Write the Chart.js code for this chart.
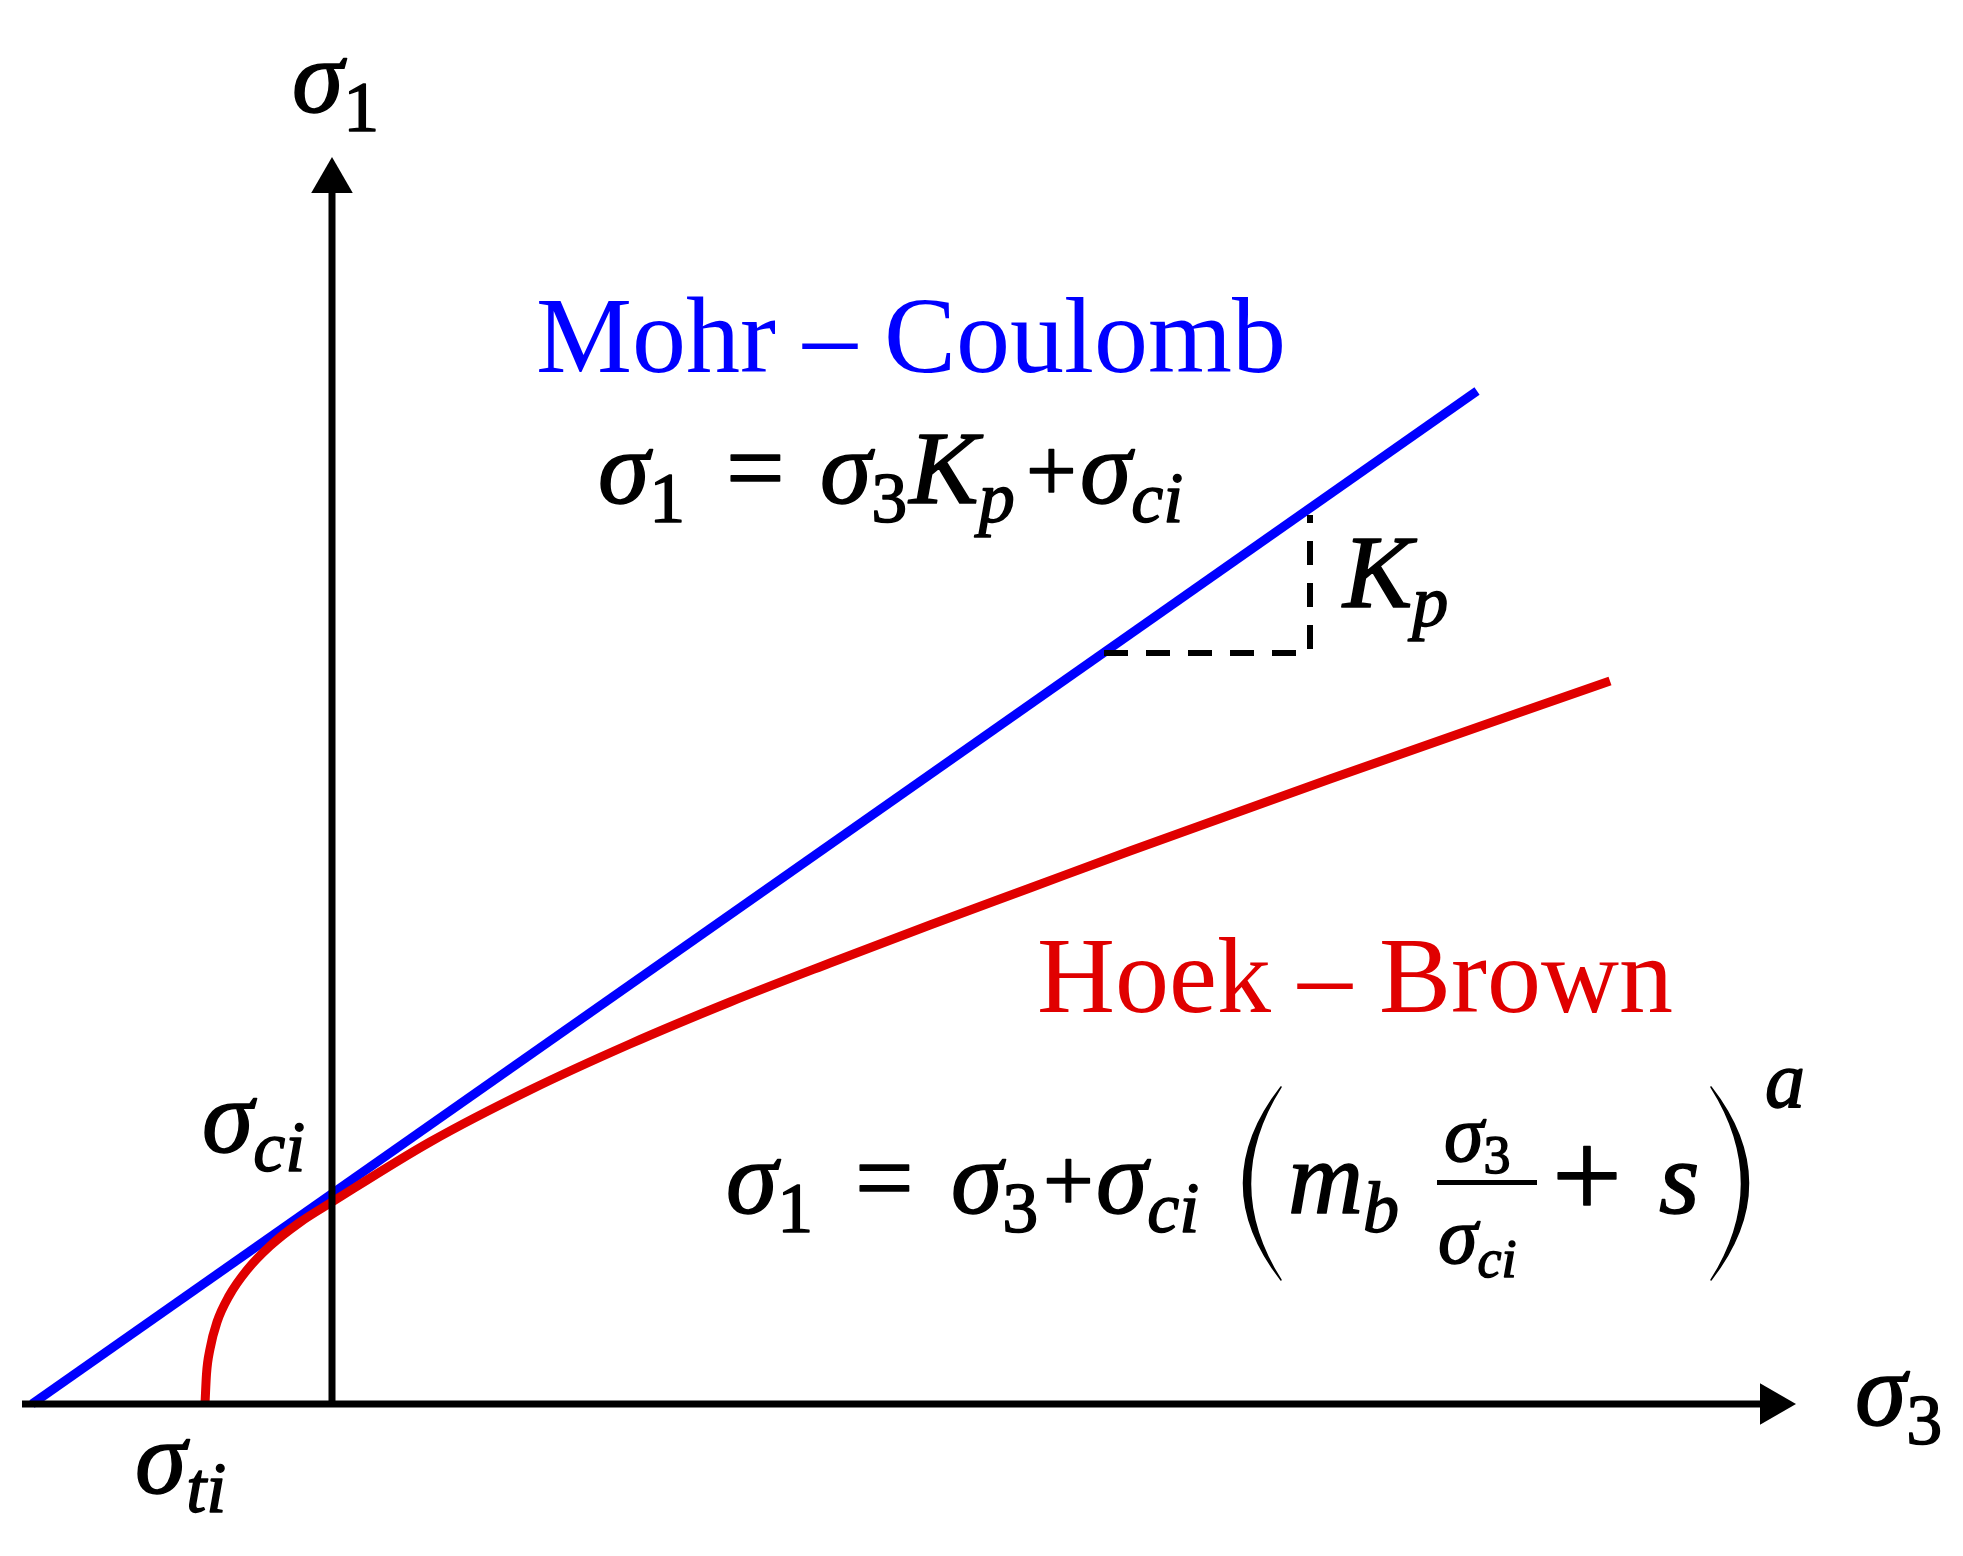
<!DOCTYPE html>
<html>
<head>
<meta charset="utf-8">
<script src="https://cdn.jsdelivr.net/npm/chart.js@4.4.0/dist/chart.umd.min.js"></script>
<style>
html,body{margin:0;padding:0;background:#fff;}
canvas{display:block;}
</style>
</head>
<body>
<canvas id="myChart" width="1963" height="1556"></canvas>
<script>
// sigma3 / sigma1 in arbitrary stress units (origin where the axes cross)
const mcS3 = [-3.0, 11.45];
const mcS1 = [0, 10.13];

// Hoek-Brown envelope
const hbS3 = [-1.27, -1.255, -1.22, -1.15, -1.03, -0.85, -0.62, -0.33, 0, 0.98, 1.98, 2.98, 3.98, 4.98, 5.98, 6.98, 7.98, 8.98, 9.98, 12.78];
const hbS1 = [0, 0.30, 0.55, 0.82, 1.08, 1.34, 1.58, 1.81, 2.02, 2.62, 3.14, 3.60, 4.02, 4.41, 4.79, 5.16, 5.53, 5.89, 6.25, 7.23];

// Kp slope triangle (dashed)
const kpS3 = [7.72, 9.78, 9.78];
const kpS1 = [7.51, 7.51, 8.89];

// axes and arrow heads
const xAxisS3 = [-3.10, 14.30];
const yAxisS1 = [0, 12.15];
const arrowS3 = [14.40, 0];
const arrowS1 = [0, 12.23];
const arrowRot = [90, 0];

const pts = (xs, ys) => xs.map((x, i) => ({x: x, y: ys[i]}));

const BLUE = '#0000ff', RED = '#e00000';
const M = 104, S = 72, SD = 19;

function put(ctx, t, x, y, size, it) {
  ctx.font = (it ? 'italic ' : '') + size + 'px "Liberation Serif"';
  ctx.fillText(t, x, y);
  ctx.strokeText(t, x, y);
  return x + ctx.measureText(t).width;
}
// variable with subscript
function sym(ctx, base, sub, x, y, size, subSize, dy, subIt) {
  let e = put(ctx, base, x, y, size, true);
  if (sub) e = put(ctx, sub, e, y + dy, subSize, subIt);
  return e;
}
function paren(ctx, cx, top, bot, dir) {
  const mid = (top + bot) / 2, w = 50;
  ctx.beginPath();
  ctx.moveTo(cx + dir * w / 2, top);
  ctx.quadraticCurveTo(cx - dir * w, mid, cx + dir * w / 2, bot);
  ctx.quadraticCurveTo(cx - dir * w + dir * 14, mid, cx + dir * w / 2, top);
  ctx.closePath();
  ctx.fill();
  ctx.stroke();
}

const textPlugin = {
  id: 'labels',
  afterDatasetsDraw(chart) {
    const ctx = chart.ctx, xs = chart.scales.x, ys = chart.scales.y;
    const P = (a, b) => [xs.getPixelForValue(a), ys.getPixelForValue(b)];
    ctx.save();
    ctx.textBaseline = 'alphabetic';
    ctx.fillStyle = '#000';
    ctx.strokeStyle = '#000';
    ctx.lineWidth = 1.5;
    ctx.lineJoin = 'round';

    let [x, y] = P(-0.40, 12.92);
    sym(ctx, 'σ', '1', x, y, M, S, SD, false);
    [x, y] = P(15.23, -0.21);
    sym(ctx, 'σ', '3', x, y, M, S, SD, false);
    [x, y] = P(-1.30, 2.52);
    sym(ctx, 'σ', 'ci', x, y, M, S, SD, true);
    [x, y] = P(-1.97, -0.89);
    sym(ctx, 'σ', 'ti', x, y, M, S, SD, true);
    [x, y] = P(10.11, 7.97);
    sym(ctx, 'K', 'p', x, y, M, S, SD, true);

    // Mohr-Coulomb criterion
    [x, y] = P(2.66, 9.01);
    sym(ctx, 'σ', '1', x, y, M, S, SD, false);
    put(ctx, '=', x + 128, y, M, false);
    let e = sym(ctx, 'σ', '3', x + 222, y, M, S, SD, false);
    sym(ctx, 'K', 'p', e + 2, y, M, S, SD, true);
    put(ctx, '+', x + 428, y - 2, 90, false);
    sym(ctx, 'σ', 'ci', x + 482, y, M, S, SD, true);

    // Hoek-Brown criterion
    [x, y] = P(3.94, 1.91);
    sym(ctx, 'σ', '1', x, y, M, S, SD, false);
    put(ctx, '=', x + 129, y, M, false);
    sym(ctx, 'σ', '3', x + 225, y, M, S, SD, false);
    put(ctx, '+', x + 317, y - 2, 90, false);
    sym(ctx, 'σ', 'ci', x + 370, y, M, S, SD, true);
    paren(ctx, x + 530, y - 126, y + 67, 1);
    sym(ctx, 'm', 'b', x + 562, y, M, S, SD, true);
    ctx.fillRect(x + 711, y - 33, 100, 5);
    sym(ctx, 'σ', '3', x + 718, y - 52, 80, 54, 12, false);
    sym(ctx, 'σ', 'ci', x + 712, y + 50, 80, 54, 14, true);
    put(ctx, '+', x + 826, y + 4, 124, false);
    put(ctx, 's', x + 933, y, M, true);
    paren(ctx, x + 1010, y - 126, y + 67, -1);
    put(ctx, 'a', x + 1039, y - 106, 80, true);

    // titles
    ctx.font = '108px "Liberation Serif"';
    ctx.fillStyle = BLUE;
    [x, y] = P(2.04, 10.32);
    ctx.fillText('Mohr – Coulomb', x, y);
    ctx.fillStyle = RED;
    [x, y] = P(7.05, 3.92);
    ctx.fillText('Hoek – Brown', x, y);

    ctx.restore();
  }
};

const ctx = document.getElementById('myChart');
new Chart(ctx, {
  type: 'scatter',
  data: {
    datasets: [
      {data: pts(xAxisS3, [0, 0]), showLine: true, borderColor: '#000', borderWidth: 7, pointRadius: 0},
      {data: pts([0, 0], yAxisS1), showLine: true, borderColor: '#000', borderWidth: 7, pointRadius: 0},
      {data: pts(arrowS3, arrowS1), showLine: false, pointStyle: 'triangle', pointRadius: 24,
       rotation: arrowRot, backgroundColor: '#000', borderWidth: 0},
      {data: pts(kpS3, kpS1), showLine: true, borderColor: '#000', borderWidth: 6, borderDash: [24, 18], pointRadius: 0},
      {data: pts(hbS3, hbS1), showLine: true, borderColor: RED, borderWidth: 9, pointRadius: 0,
       cubicInterpolationMode: 'monotone'},
      {data: pts(mcS3, mcS1), showLine: true, borderColor: BLUE, borderWidth: 9, pointRadius: 0}
    ]
  },
  options: {
    responsive: false,
    animation: false,
    layout: {padding: 0, autoPadding: false},
    plugins: {legend: {display: false}, tooltip: {enabled: false}},
    scales: {
      x: {type: 'linear', display: false, min: -3.32, max: 16.31},
      y: {type: 'linear', display: false, min: -1.52, max: 14.04}
    }
  },
  plugins: [textPlugin]
});
</script>
</body>
</html>
